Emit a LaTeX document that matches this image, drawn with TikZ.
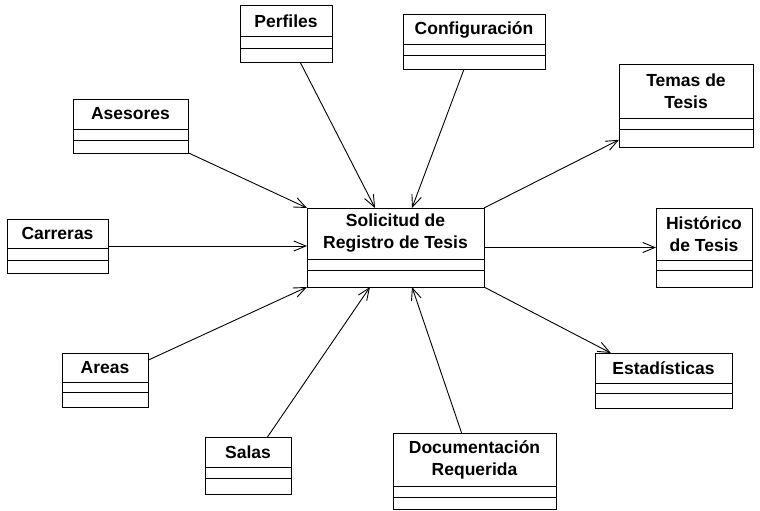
\documentclass[tikz,border=0pt]{standalone}
\usepackage{fontspec}
\setmainfont{Liberation Sans}
\usetikzlibrary{arrows.meta}

% UML class box: name, left, top, right, bottom, first divider, second divider, title
\newcommand\umlclassbox[8]{%
  \node[classframe, minimum width={#4-#2}, minimum height={#5-#3}]
    (#1) at ({(#2+#4)/2},{(#3+#5)/2}) {};
  \node[classtitle] (#1-title) at ({(#2+#4)/2},{(#3+#6)/2}) {#8};
  \draw[classline] (#2,#6) -- (#4,#6) (#2,#7) -- (#4,#7);
}

\begin{document}
\begin{tikzpicture}[x=1pt,y=-1pt,
  classframe/.style={draw, line width=1pt, inner sep=0pt, outer sep=0pt},
  classtitle/.style={align=center, font=\bfseries\fontsize{17.5}{22}\selectfont, inner sep=0pt},
  classline/.style={line width=1pt},
  assoc/.style={line width=0.9pt, -{Straight Barb[length=12pt,width=10pt,line width=0.9pt]}}]
\useasboundingbox (0,0) rectangle (760,511);

% central class
\umlclassbox{sol}{307}{208}{484}{287}{259}{270}{Solicitud de\\Registro de Tesis}

% surrounding classes
\umlclassbox{perf}{240}{6}{332}{63}{37}{49}{Perfiles}
\umlclassbox{conf}{403}{15}{545}{70}{45}{56}{Configuración}
\umlclassbox{ases}{73}{99}{188}{153}{129}{140}{Asesores}
\umlclassbox{carr}{7}{219}{108}{273}{248}{260}{Carreras}
\umlclassbox{areas}{62}{353}{148}{407}{382}{392}{Areas}
\umlclassbox{salas}{205}{437}{291}{494}{467}{478}{Salas}
\umlclassbox{doc}{393}{433}{556}{509}{486}{497}{Documentación\\Requerida}
\umlclassbox{temas}{619}{65}{753}{147}{118}{129}{Temas de\\Tesis}
\umlclassbox{hist}{656}{208}{752}{287}{260}{270}{Histórico\\de Tesis}
\umlclassbox{est}{595}{353}{732}{408}{383}{393}{Estadísticas}

% attachment points on the central class
\coordinate (in-perf)  at (375,208);
\coordinate (in-conf)  at (412,208);
\coordinate (in-ases)  at (307,208);
\coordinate (in-carr)  at (307,246);
\coordinate (in-areas) at (307,287);
\coordinate (in-salas) at (370,287);
\coordinate (in-doc)   at (412,287);
\coordinate (out-temas) at (484,208);
\coordinate (out-hist)  at (484,247.5);
\coordinate (out-est)   at (484,287);

% incoming associations
\draw[assoc] (perf)  -- (in-perf);
\draw[assoc] (conf)  -- (in-conf);
\draw[assoc] (ases)  -- (in-ases);
\draw[assoc] (carr)  -- (in-carr);
\draw[assoc] (areas) -- (in-areas);
\draw[assoc] (salas) -- (in-salas);
\draw[assoc] (doc)   -- (in-doc);

% outgoing associations
\draw[assoc] (out-temas) -- (temas);
\draw[assoc] (out-hist)  -- (hist);
\draw[assoc] (out-est)   -- (est);
\end{tikzpicture}
\end{document}
